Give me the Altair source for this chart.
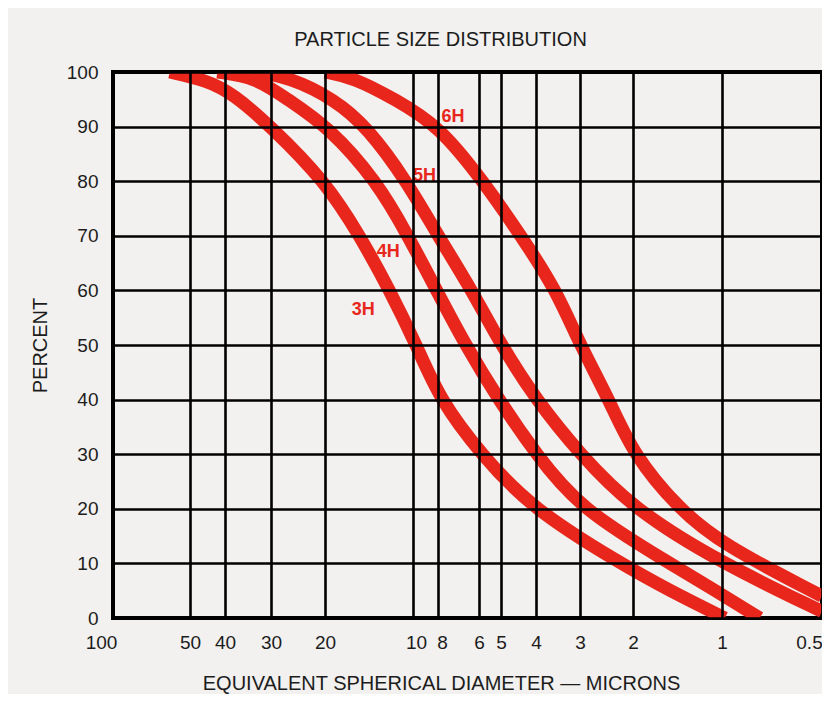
import altair as alt
import pandas as pd

# ---- data ----
x_ticks = [100, 50, 40, 30, 20, 10, 8, 6, 5, 4, 3, 2, 1, 0.5]
y_ticks = [0, 10, 20, 30, 40, 50, 60, 70, 80, 90, 100]

grades = ["3H", "4H", "5H", "6H"]

d_3h = [60, 45, 38, 30, 20, 15.2, 12, 9.7, 7.9, 5.9, 4.1, 2.2, 1.5, 0.98]
p_3h = [100, 98.5, 96, 90, 80, 70, 60, 50, 40, 30, 20, 10, 5, 0]

d_4h = [42, 33, 26.5, 19.5, 13.3, 10.4, 8.1, 6.6, 5.1, 4.0, 3.0, 1.5, 1.05, 0.77]
p_4h = [100, 99, 95, 90, 80, 70, 60, 50, 40, 30, 20, 10, 5, 0]

d_5h = [33, 26, 18.6, 14.4, 10.5, 8.0, 6.3, 5.0, 4.0, 3.0, 2.0, 1.0, 0.5]
p_5h = [100, 99, 95, 90, 80, 70, 60, 50, 40, 30, 20, 10, 1.2]

d_6h = [20, 16, 11.5, 7.9, 5.8, 4.4, 3.5, 3.0, 2.4, 2.0, 1.4, 1.0, 0.5]
p_6h = [100, 99, 95, 90, 80, 70, 60, 50, 40, 30, 20, 13.5, 4]

label_d = [16.2, 13.3, 10.0, 7.8]
label_p = [56.5, 67.0, 81.0, 91.8]

title_text = "PARTICLE SIZE DISTRIBUTION"
x_title = "EQUIVALENT SPHERICAL DIAMETER — MICRONS"
y_title = "PERCENT"

# printed (hand-drawn) log grid: where each gridline sits across the plot width
x_grid_frac = [0, 77, 112, 158, 212, 300, 325, 366, 388, 423, 467, 520, 609, 709]

# ---- build tables ----
rows = []
for g, ds, ps in zip(grades, [d_3h, d_4h, d_5h, d_6h], [p_3h, p_4h, p_5h, p_6h]):
    for d, p in zip(ds, ps):
        rows.append({"grade": g, "diameter": d, "percent": p})
curves = pd.DataFrame(rows)
labels = pd.DataFrame({"grade": grades, "diameter": label_d, "percent": label_p})

RED = "#e8261c"
INK = "#1c1c1c"
FONT = "Liberation Sans"

x_scale = alt.Scale(type="log", domain=x_ticks, range=x_grid_frac, nice=False)
y_scale = alt.Scale(domain=[0, 100], nice=False)

x_label_offset = {
    "condition": [
        {"test": "datum.value == 100", "value": -12},
        {"test": "datum.value == 0.5", "value": -13},
        {"test": "datum.value == 10", "value": 3},
        {"test": "datum.value == 8", "value": 4},
    ],
    "value": 0,
}

x_axis = alt.Axis(
    values=x_ticks, format="~g", title=x_title, grid=True, gridColor="black",
    gridWidth=2.6, gridOpacity=1, ticks=False, tickSize=0, domain=False,
    labelFontSize=19, labelPadding=15, labelColor=INK, labelFont=FONT,
    labelOffset=x_label_offset,
    titleFontSize=20, titleFontWeight="normal", titleColor=INK, titleFont=FONT,
    titlePadding=21, titleX=328, zindex=1, labelOverlap=False, labelFlush=False,
)
y_axis = alt.Axis(
    values=y_ticks, title=y_title, grid=True, gridColor="black",
    gridWidth=2.6, gridOpacity=1, ticks=False, tickSize=0, domain=False,
    labelFontSize=19, labelPadding=15, labelColor=INK, labelFont=FONT,
    titleFontSize=20, titleFontWeight="normal", titleColor=INK, titleFont=FONT,
    titlePadding=16, zindex=1,
)

lines = alt.Chart(curves).mark_line(
    color=RED, strokeWidth=13, interpolate="basis", clip=True, strokeCap="butt"
).encode(
    x=alt.X("diameter:Q", scale=x_scale, axis=x_axis),
    y=alt.Y("percent:Q", scale=y_scale, axis=y_axis),
    detail="grade:N",
)

texts = alt.Chart(labels).mark_text(
    color=RED, fontSize=18, fontWeight="bold", font=FONT, align="left", baseline="middle"
).encode(
    x=alt.X("diameter:Q", scale=x_scale),
    y=alt.Y("percent:Q", scale=y_scale),
    text="grade:N",
)

chart = alt.layer(lines, texts).properties(
    width=709, height=546,
    padding={"left": 105, "top": 64, "right": 0, "bottom": 76},
    autosize=alt.AutoSizeParams(type="none"),
    title=alt.TitleParams(title_text, fontSize=20, fontWeight="normal", color=INK,
                          font=FONT, baseline="bottom", offset=-7, dx=-27, frame="group"),
).configure(background="#f2f1ef").configure_view(stroke="black", strokeWidth=4, fill="#f2f1ef")

chart.save("out.html", embed_options={"renderer": "svg", "actions": False})
